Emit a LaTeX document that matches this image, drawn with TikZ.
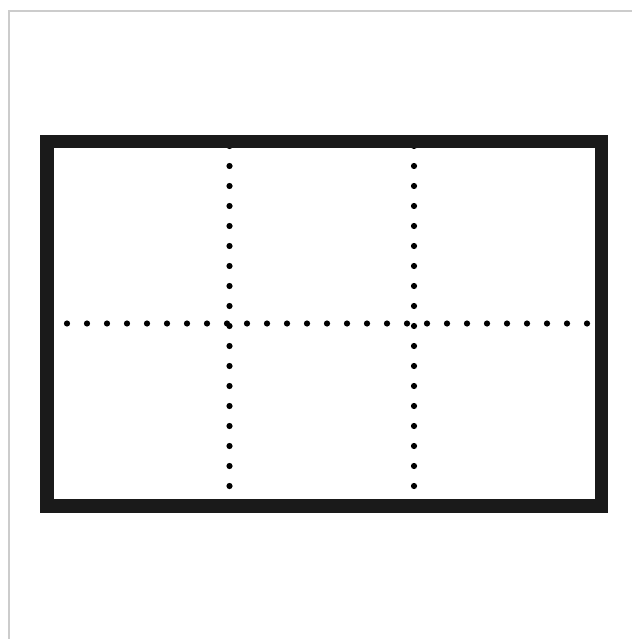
\documentclass[tikz,border=0pt]{standalone}
\definecolor{framegray}{HTML}{CCCCCC}
\definecolor{boxblack}{HTML}{1A1A1A}
\tikzset{
  pagefr/.style={draw=framegray,line width=1.6pt},
  thickbox/.style={draw=boxblack,line width=13.5pt},
  dotmark/.style={fill=black},
}
\begin{document}
\begin{tikzpicture}[x=1pt,y=-1pt]
\useasboundingbox (0,0) rectangle (631,639);
\fill[white] (0,0) rectangle (631,639);
\coordinate (fTL) at (8.8,10.8);
\coordinate (fTR) at (632,10.8);
\coordinate (fBL) at (8.8,640);
\draw[pagefr] (fBL) -- (fTL) -- (fTR);
\coordinate (bTL) at (46.75,141.75);
\coordinate (bBR) at (601.25,505.75);
\draw[thickbox] (bTL) rectangle (bBR);
% vertical dotted lines
\foreach \k in {0,...,17}{
  \fill[dotmark] (229.5,{146+20*\k}) circle (3.1);
  \fill[dotmark] (414,{146+20*\k}) circle (3.1);
}
% horizontal dotted line
\foreach \k in {0,...,26}{
  \fill[dotmark] ({67+20*\k},323.5) circle (3.1);
}
% mask dots under the thick border top
\draw[thickbox] (bTL) -- (601.25,141.75);
\end{tikzpicture}
\end{document}
